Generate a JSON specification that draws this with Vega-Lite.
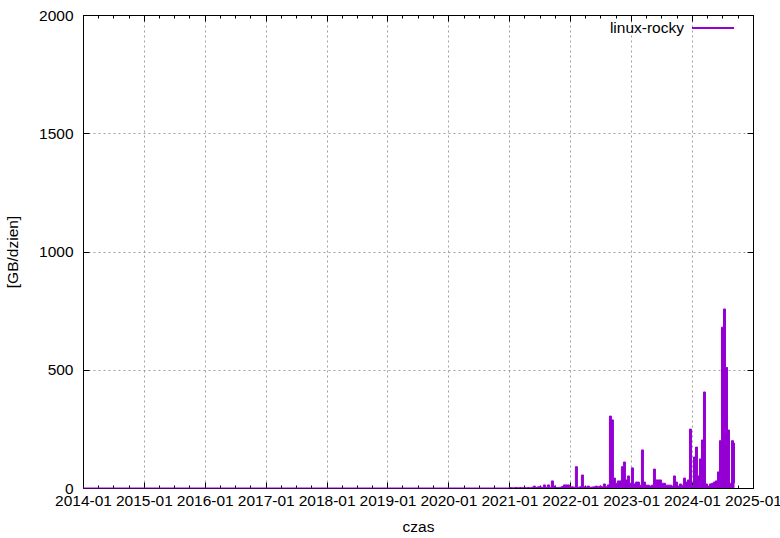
{
  "$schema": "https://vega.github.io/schema/vega-lite/v6.json",
  "width": 670,
  "height": 473,
  "autosize": {"type": "none"},
  "padding": {"left": 83, "top": 15, "right": 27, "bottom": 50},
  "background": "white",
  "config": {
    "view": {"stroke": "black", "strokeWidth": 1},
    "font": "Liberation Sans",
    "axis": {
      "labelFont": "Liberation Sans",
      "labelFontSize": 15.5,
      "labelColor": "black",
      "titleFont": "Liberation Sans",
      "titleFontSize": 15.5,
      "titleFontWeight": "normal",
      "titleColor": "black",
      "domainColor": "black",
      "tickColor": "black",
      "gridColor": "#a0a0a0",
      "gridDash": [2, 3],
      "gridWidth": 1
    }
  },
  "data": {
    "values": [
      {"date": "2014-01-01", "v": 0, "s": "linux-rocky"},
      {"date": "2021-01-01", "v": 2, "s": "linux-rocky"},
      {"date": "2021-01-13", "v": 1, "s": "linux-rocky"},
      {"date": "2021-01-25", "v": 1, "s": "linux-rocky"},
      {"date": "2021-02-06", "v": 2, "s": "linux-rocky"},
      {"date": "2021-02-18", "v": 1, "s": "linux-rocky"},
      {"date": "2021-03-02", "v": 2, "s": "linux-rocky"},
      {"date": "2021-03-14", "v": 1, "s": "linux-rocky"},
      {"date": "2021-03-26", "v": 2, "s": "linux-rocky"},
      {"date": "2021-04-07", "v": 1, "s": "linux-rocky"},
      {"date": "2021-04-19", "v": 2, "s": "linux-rocky"},
      {"date": "2021-05-01", "v": 1, "s": "linux-rocky"},
      {"date": "2021-05-13", "v": 3, "s": "linux-rocky"},
      {"date": "2021-05-25", "v": 8, "s": "linux-rocky"},
      {"date": "2021-06-06", "v": 2, "s": "linux-rocky"},
      {"date": "2021-06-18", "v": 5, "s": "linux-rocky"},
      {"date": "2021-06-30", "v": 5, "s": "linux-rocky"},
      {"date": "2021-07-12", "v": 2, "s": "linux-rocky"},
      {"date": "2021-07-24", "v": 13, "s": "linux-rocky"},
      {"date": "2021-08-05", "v": 3, "s": "linux-rocky"},
      {"date": "2021-08-17", "v": 13, "s": "linux-rocky"},
      {"date": "2021-08-29", "v": 3, "s": "linux-rocky"},
      {"date": "2021-09-10", "v": 30, "s": "linux-rocky"},
      {"date": "2021-09-22", "v": 8, "s": "linux-rocky"},
      {"date": "2021-10-04", "v": 2, "s": "linux-rocky"},
      {"date": "2021-10-16", "v": 2, "s": "linux-rocky"},
      {"date": "2021-10-28", "v": 3, "s": "linux-rocky"},
      {"date": "2021-11-09", "v": 6, "s": "linux-rocky"},
      {"date": "2021-11-21", "v": 13, "s": "linux-rocky"},
      {"date": "2021-12-03", "v": 13, "s": "linux-rocky"},
      {"date": "2021-12-15", "v": 13, "s": "linux-rocky"},
      {"date": "2021-12-27", "v": 5, "s": "linux-rocky"},
      {"date": "2022-01-08", "v": 5, "s": "linux-rocky"},
      {"date": "2022-01-20", "v": 3, "s": "linux-rocky"},
      {"date": "2022-02-01", "v": 90, "s": "linux-rocky"},
      {"date": "2022-02-13", "v": 3, "s": "linux-rocky"},
      {"date": "2022-02-25", "v": 5, "s": "linux-rocky"},
      {"date": "2022-03-09", "v": 55, "s": "linux-rocky"},
      {"date": "2022-03-21", "v": 5, "s": "linux-rocky"},
      {"date": "2022-04-02", "v": 4, "s": "linux-rocky"},
      {"date": "2022-04-14", "v": 8, "s": "linux-rocky"},
      {"date": "2022-04-26", "v": 3, "s": "linux-rocky"},
      {"date": "2022-05-08", "v": 4, "s": "linux-rocky"},
      {"date": "2022-05-20", "v": 5, "s": "linux-rocky"},
      {"date": "2022-06-01", "v": 8, "s": "linux-rocky"},
      {"date": "2022-06-13", "v": 5, "s": "linux-rocky"},
      {"date": "2022-06-25", "v": 8, "s": "linux-rocky"},
      {"date": "2022-07-07", "v": 5, "s": "linux-rocky"},
      {"date": "2022-07-19", "v": 17, "s": "linux-rocky"},
      {"date": "2022-07-31", "v": 5, "s": "linux-rocky"},
      {"date": "2022-08-12", "v": 13, "s": "linux-rocky"},
      {"date": "2022-08-24", "v": 304, "s": "linux-rocky"},
      {"date": "2022-09-05", "v": 288, "s": "linux-rocky"},
      {"date": "2022-09-17", "v": 42, "s": "linux-rocky"},
      {"date": "2022-09-29", "v": 20, "s": "linux-rocky"},
      {"date": "2022-10-11", "v": 30, "s": "linux-rocky"},
      {"date": "2022-10-23", "v": 30, "s": "linux-rocky"},
      {"date": "2022-11-04", "v": 90, "s": "linux-rocky"},
      {"date": "2022-11-16", "v": 110, "s": "linux-rocky"},
      {"date": "2022-11-28", "v": 34, "s": "linux-rocky"},
      {"date": "2022-12-10", "v": 51, "s": "linux-rocky"},
      {"date": "2022-12-22", "v": 20, "s": "linux-rocky"},
      {"date": "2023-01-03", "v": 85, "s": "linux-rocky"},
      {"date": "2023-01-15", "v": 17, "s": "linux-rocky"},
      {"date": "2023-01-27", "v": 25, "s": "linux-rocky"},
      {"date": "2023-02-08", "v": 25, "s": "linux-rocky"},
      {"date": "2023-02-20", "v": 12, "s": "linux-rocky"},
      {"date": "2023-03-04", "v": 161, "s": "linux-rocky"},
      {"date": "2023-03-16", "v": 25, "s": "linux-rocky"},
      {"date": "2023-03-28", "v": 12, "s": "linux-rocky"},
      {"date": "2023-04-09", "v": 12, "s": "linux-rocky"},
      {"date": "2023-04-21", "v": 8, "s": "linux-rocky"},
      {"date": "2023-05-03", "v": 12, "s": "linux-rocky"},
      {"date": "2023-05-15", "v": 80, "s": "linux-rocky"},
      {"date": "2023-05-27", "v": 34, "s": "linux-rocky"},
      {"date": "2023-06-08", "v": 34, "s": "linux-rocky"},
      {"date": "2023-06-20", "v": 34, "s": "linux-rocky"},
      {"date": "2023-07-02", "v": 20, "s": "linux-rocky"},
      {"date": "2023-07-14", "v": 20, "s": "linux-rocky"},
      {"date": "2023-07-26", "v": 12, "s": "linux-rocky"},
      {"date": "2023-08-07", "v": 12, "s": "linux-rocky"},
      {"date": "2023-08-19", "v": 12, "s": "linux-rocky"},
      {"date": "2023-08-31", "v": 8, "s": "linux-rocky"},
      {"date": "2023-09-12", "v": 51, "s": "linux-rocky"},
      {"date": "2023-09-24", "v": 25, "s": "linux-rocky"},
      {"date": "2023-10-06", "v": 8, "s": "linux-rocky"},
      {"date": "2023-10-18", "v": 17, "s": "linux-rocky"},
      {"date": "2023-10-30", "v": 12, "s": "linux-rocky"},
      {"date": "2023-11-11", "v": 42, "s": "linux-rocky"},
      {"date": "2023-11-23", "v": 25, "s": "linux-rocky"},
      {"date": "2023-12-05", "v": 34, "s": "linux-rocky"},
      {"date": "2023-12-17", "v": 249, "s": "linux-rocky"},
      {"date": "2023-12-29", "v": 10, "s": "linux-rocky"},
      {"date": "2024-01-10", "v": 131, "s": "linux-rocky"},
      {"date": "2024-01-22", "v": 173, "s": "linux-rocky"},
      {"date": "2024-02-03", "v": 51, "s": "linux-rocky"},
      {"date": "2024-02-15", "v": 123, "s": "linux-rocky"},
      {"date": "2024-02-27", "v": 203, "s": "linux-rocky"},
      {"date": "2024-03-10", "v": 406, "s": "linux-rocky"},
      {"date": "2024-03-22", "v": 17, "s": "linux-rocky"},
      {"date": "2024-04-03", "v": 8, "s": "linux-rocky"},
      {"date": "2024-04-15", "v": 17, "s": "linux-rocky"},
      {"date": "2024-04-27", "v": 20, "s": "linux-rocky"},
      {"date": "2024-05-09", "v": 25, "s": "linux-rocky"},
      {"date": "2024-05-21", "v": 30, "s": "linux-rocky"},
      {"date": "2024-06-02", "v": 68, "s": "linux-rocky"},
      {"date": "2024-06-14", "v": 200, "s": "linux-rocky"},
      {"date": "2024-06-26", "v": 680, "s": "linux-rocky"},
      {"date": "2024-07-08", "v": 757, "s": "linux-rocky"},
      {"date": "2024-07-20", "v": 510, "s": "linux-rocky"},
      {"date": "2024-08-01", "v": 245, "s": "linux-rocky"},
      {"date": "2024-08-13", "v": 20, "s": "linux-rocky"},
      {"date": "2024-08-25", "v": 200, "s": "linux-rocky"},
      {"date": "2024-09-06", "v": 190, "s": "linux-rocky"},
      {"date": "2024-09-12", "v": 20, "s": "linux-rocky"}
    ]
  },
  "layer": [
    {
      "mark": {"type": "area", "interpolate": "step-after", "color": "#9400D3", "opacity": 1},
      "encoding": {
        "x": {
          "field": "date", "type": "temporal",
          "scale": {"type": "utc", "domain": [{"year": 2014, "month": 1, "date": 1, "utc": true}, {"year": 2025, "month": 1, "date": 1, "utc": true}]},
          "axis": {
            "orient": "bottom",
            "title": "czas",
            "titlePadding": 8,
            "values": [
              {"year": 2014, "month": 1, "date": 1, "utc": true}, {"year": 2014, "month": 4, "date": 1, "utc": true}, {"year": 2014, "month": 7, "date": 1, "utc": true}, {"year": 2014, "month": 10, "date": 1, "utc": true},
              {"year": 2015, "month": 1, "date": 1, "utc": true}, {"year": 2015, "month": 4, "date": 1, "utc": true}, {"year": 2015, "month": 7, "date": 1, "utc": true}, {"year": 2015, "month": 10, "date": 1, "utc": true},
              {"year": 2016, "month": 1, "date": 1, "utc": true}, {"year": 2016, "month": 4, "date": 1, "utc": true}, {"year": 2016, "month": 7, "date": 1, "utc": true}, {"year": 2016, "month": 10, "date": 1, "utc": true},
              {"year": 2017, "month": 1, "date": 1, "utc": true}, {"year": 2017, "month": 4, "date": 1, "utc": true}, {"year": 2017, "month": 7, "date": 1, "utc": true}, {"year": 2017, "month": 10, "date": 1, "utc": true},
              {"year": 2018, "month": 1, "date": 1, "utc": true}, {"year": 2018, "month": 4, "date": 1, "utc": true}, {"year": 2018, "month": 7, "date": 1, "utc": true}, {"year": 2018, "month": 10, "date": 1, "utc": true},
              {"year": 2019, "month": 1, "date": 1, "utc": true}, {"year": 2019, "month": 4, "date": 1, "utc": true}, {"year": 2019, "month": 7, "date": 1, "utc": true}, {"year": 2019, "month": 10, "date": 1, "utc": true},
              {"year": 2020, "month": 1, "date": 1, "utc": true}, {"year": 2020, "month": 4, "date": 1, "utc": true}, {"year": 2020, "month": 7, "date": 1, "utc": true}, {"year": 2020, "month": 10, "date": 1, "utc": true},
              {"year": 2021, "month": 1, "date": 1, "utc": true}, {"year": 2021, "month": 4, "date": 1, "utc": true}, {"year": 2021, "month": 7, "date": 1, "utc": true}, {"year": 2021, "month": 10, "date": 1, "utc": true},
              {"year": 2022, "month": 1, "date": 1, "utc": true}, {"year": 2022, "month": 4, "date": 1, "utc": true}, {"year": 2022, "month": 7, "date": 1, "utc": true}, {"year": 2022, "month": 10, "date": 1, "utc": true},
              {"year": 2023, "month": 1, "date": 1, "utc": true}, {"year": 2023, "month": 4, "date": 1, "utc": true}, {"year": 2023, "month": 7, "date": 1, "utc": true}, {"year": 2023, "month": 10, "date": 1, "utc": true},
              {"year": 2024, "month": 1, "date": 1, "utc": true}, {"year": 2024, "month": 4, "date": 1, "utc": true}, {"year": 2024, "month": 7, "date": 1, "utc": true}, {"year": 2024, "month": 10, "date": 1, "utc": true},
              {"year": 2025, "month": 1, "date": 1, "utc": true}
            ],
            "labelExpr": "utcmonth(datum.value) === 0 ? utcFormat(datum.value, '%Y-%m') : ''",
            "labelOverlap": false,
            "labelFlush": false,
            "labelPadding": 11,
            "tickSize": {"condition": {"test": "utcmonth(datum.value) === 0", "value": -6}, "value": -3},
            "gridOpacity": {"condition": {"test": "utcmonth(datum.value) === 0 && utcyear(datum.value) > 2014 && utcyear(datum.value) < 2025", "value": 1}, "value": 0},
            "grid": true
          }
        },
        "y": {
          "field": "v", "type": "quantitative",
          "scale": {"domain": [0, 2000], "nice": false},
          "axis": {
            "orient": "left",
            "title": "[GB/dzien]",
            "titlePadding": 18,
            "format": "d",
            "values": [0, 500, 1000, 1500, 2000],
            "tickSize": -6,
            "labelPadding": 16,
            "grid": true,
            "gridOpacity": {"condition": {"test": "datum.value > 0 && datum.value < 2000", "value": 1}, "value": 0}
          }
        }
      }
    },
    {
      "mark": {"type": "line", "interpolate": "step-after", "strokeWidth": 1},
      "encoding": {
        "x": {
          "field": "date", "type": "temporal",
          "axis": {
            "orient": "top",
            "title": null,
            "labels": false,
            "grid": false,
            "values": [
              {"year": 2014, "month": 1, "date": 1, "utc": true}, {"year": 2014, "month": 4, "date": 1, "utc": true}, {"year": 2014, "month": 7, "date": 1, "utc": true}, {"year": 2014, "month": 10, "date": 1, "utc": true},
              {"year": 2015, "month": 1, "date": 1, "utc": true}, {"year": 2015, "month": 4, "date": 1, "utc": true}, {"year": 2015, "month": 7, "date": 1, "utc": true}, {"year": 2015, "month": 10, "date": 1, "utc": true},
              {"year": 2016, "month": 1, "date": 1, "utc": true}, {"year": 2016, "month": 4, "date": 1, "utc": true}, {"year": 2016, "month": 7, "date": 1, "utc": true}, {"year": 2016, "month": 10, "date": 1, "utc": true},
              {"year": 2017, "month": 1, "date": 1, "utc": true}, {"year": 2017, "month": 4, "date": 1, "utc": true}, {"year": 2017, "month": 7, "date": 1, "utc": true}, {"year": 2017, "month": 10, "date": 1, "utc": true},
              {"year": 2018, "month": 1, "date": 1, "utc": true}, {"year": 2018, "month": 4, "date": 1, "utc": true}, {"year": 2018, "month": 7, "date": 1, "utc": true}, {"year": 2018, "month": 10, "date": 1, "utc": true},
              {"year": 2019, "month": 1, "date": 1, "utc": true}, {"year": 2019, "month": 4, "date": 1, "utc": true}, {"year": 2019, "month": 7, "date": 1, "utc": true}, {"year": 2019, "month": 10, "date": 1, "utc": true},
              {"year": 2020, "month": 1, "date": 1, "utc": true}, {"year": 2020, "month": 4, "date": 1, "utc": true}, {"year": 2020, "month": 7, "date": 1, "utc": true}, {"year": 2020, "month": 10, "date": 1, "utc": true},
              {"year": 2021, "month": 1, "date": 1, "utc": true}, {"year": 2021, "month": 4, "date": 1, "utc": true}, {"year": 2021, "month": 7, "date": 1, "utc": true}, {"year": 2021, "month": 10, "date": 1, "utc": true},
              {"year": 2022, "month": 1, "date": 1, "utc": true}, {"year": 2022, "month": 4, "date": 1, "utc": true}, {"year": 2022, "month": 7, "date": 1, "utc": true}, {"year": 2022, "month": 10, "date": 1, "utc": true},
              {"year": 2023, "month": 1, "date": 1, "utc": true}, {"year": 2023, "month": 4, "date": 1, "utc": true}, {"year": 2023, "month": 7, "date": 1, "utc": true}, {"year": 2023, "month": 10, "date": 1, "utc": true},
              {"year": 2024, "month": 1, "date": 1, "utc": true}, {"year": 2024, "month": 4, "date": 1, "utc": true}, {"year": 2024, "month": 7, "date": 1, "utc": true}, {"year": 2024, "month": 10, "date": 1, "utc": true},
              {"year": 2025, "month": 1, "date": 1, "utc": true}
            ],
            "tickSize": {"condition": {"test": "utcmonth(datum.value) === 0", "value": -6}, "value": -3}
          }
        },
        "y": {
          "field": "v", "type": "quantitative",
          "axis": {
            "orient": "right",
            "title": null,
            "labels": false,
            "grid": false,
            "values": [0, 500, 1000, 1500, 2000],
            "tickSize": -6
          }
        },
        "color": {
          "field": "s", "type": "nominal",
          "scale": {"range": ["#9400D3"]},
          "legend": {
            "title": null,
            "orient": "none",
            "legendX": 608,
            "legendY": -9,
            "symbolType": "stroke",
            "symbolSize": 1764,
            "symbolStrokeWidth": 2,
            "labelAlign": "right",
            "labelOffset": -51,
            "padding": 0,
            "labelFont": "Liberation Sans",
            "labelFontSize": 15.5,
            "labelColor": "black"
          }
        }
      }
    }
  ],
  "resolve": {"axis": {"x": "independent", "y": "independent"}}
}
